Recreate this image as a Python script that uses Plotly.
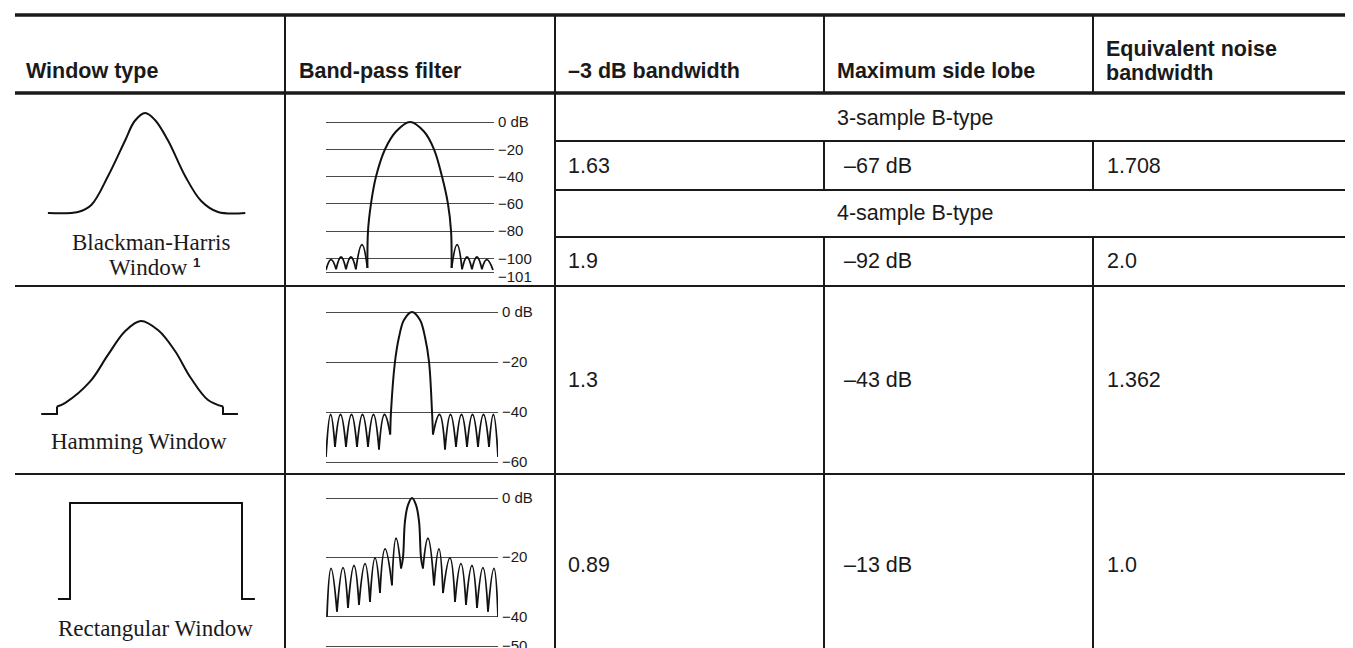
import plotly.graph_objects as go

W, H = 1353, 648

# ---------------- table text ----------------
headers = ["Window type", "Band-pass filter", "–3 dB bandwidth", "Maximum side lobe"]
header_two_line = ["Equivalent noise", "bandwidth"]
window_names = ["Blackman-Harris", "Window", "Hamming Window", "Rectangular Window"]
footnote_mark = "1"
bh_subtypes = ["3-sample B-type", "4-sample B-type"]
bw_3db = ["1.63", "1.9", "1.3", "0.89"]
max_side_lobe = ["–67 dB", "–92 dB", "–43 dB", "–13 dB"]
enbw = ["1.708", "2.0", "1.362", "1.0"]

# ---------------- window shapes (normalised time, amplitude) ----------------
bh_win_t = [-1.43, -1.0, -0.81, -0.57, -0.33, -0.19, -0.04, 0.10, 0.29, 0.53, 0.76, 1.0, 1.39]
bh_win_amp = [0.0, 0.01, 0.08, 0.37, 0.72, 0.92, 1.0, 0.93, 0.72, 0.37, 0.12, 0.01, 0.0]

ham_edge_left_t = [-1.19, -1.0, -1.0]
ham_edge_left_amp = [0.0, 0.0, 0.08]
ham_win_t = [-1.0, -0.9, -0.6, -0.39, -0.18, 0.01, 0.22, 0.42, 0.61, 0.82, 1.0]
ham_win_amp = [0.08, 0.12, 0.35, 0.63, 0.89, 1.0, 0.90, 0.68, 0.39, 0.15, 0.08]
ham_edge_right_t = [1.0, 1.0, 1.18]
ham_edge_right_amp = [0.08, 0.0, 0.0]

rect_win_t = [-1.14, -1.0, -1.0, 1.0, 1.0, 1.15]
rect_win_amp = [0.0, 0.0, 1.0, 1.0, 0.0, 0.0]

# ---------------- band-pass responses (bins, dB) ----------------
bh_grid_db = [0, -20, -40, -60, -80, -100, -110]
bh_grid_labels = ["0 dB", "−20", "−40", "−60", "−80", "−100", ""]
bh_bottom_label = "−101"
bh_main_bin = [-4.05, -4.0, -3.73, -3.27, -2.45, -1.45, -0.18, 1.09, 2.0, 2.73, 3.27, 3.55, 3.6]
bh_main_db = [-107, -80, -60, -40, -20, -7, 0, -7, -20, -40, -60, -80, -107]
bh_left_null_bin = [-7.82, -6.9, -6.0, -5.1, -4.05]
bh_left_null_db = [-108.5, -108, -108, -108, -107]
bh_left_peak_bin = [-7.36, -6.45, -5.55, -4.55]
bh_left_peak_db = [-101, -99, -99, -90]
bh_right_null_bin = [3.6, 4.55, 5.45, 6.36, 7.36]
bh_right_null_db = [-107, -108, -108, -108, -108.5]
bh_right_peak_bin = [4.1, 5.0, 5.9, 6.8]
bh_right_peak_db = [-90, -99, -99, -101]

ham_grid_db = [0, -20, -40, -60]
ham_grid_labels = ["0 dB", "−20", "−40", "−60"]
ham_main_bin = [-1.98, -1.91, -1.55, -1.18, -0.73, 0.0, 0.73, 1.18, 1.55, 1.82, 1.91]
ham_main_db = [-49, -40, -20, -10, -3.2, 0, -3.2, -10, -20, -40, -49]
ham_left_null_bin = [-7.82, -7.0, -6.0, -5.0, -4.0, -3.0, -1.98]
ham_left_null_db = [-58, -54, -54, -54, -54, -55, -49]
ham_left_peak_bin = [-7.4, -6.5, -5.5, -4.5, -3.5, -2.5]
ham_left_peak_db = [-41, -41, -41, -41, -41, -41]
ham_right_null_bin = [1.91, 3.0, 4.0, 5.0, 6.0, 7.0, 7.82]
ham_right_null_db = [-49, -55, -54, -54, -54, -54, -58]
ham_right_peak_bin = [2.5, 3.5, 4.5, 5.5, 6.5, 7.4]
ham_right_peak_db = [-41, -41, -41, -41, -41, -41]

rect_grid_db = [0, -20, -40, -50]
rect_grid_labels = ["0 dB", "−20", "−40", "−50"]
rect_main_bin = [-1.0, -0.82, -0.64, -0.36, 0.0, 0.36, 0.64, 0.82, 1.0]
rect_main_db = [-23.8, -20.2, -7.9, -2.3, 0, -2.3, -7.9, -20.2, -23.8]
rect_left_null_bin = [-1.0, -1.82, -2.91, -3.82, -4.82, -5.82, -6.82, -7.73]
rect_left_null_db = [-23.8, -29.5, -32.1, -35.1, -36.1, -37.1, -38.4, -40.1]
rect_left_peak_bin = [-1.45, -2.45, -3.36, -4.27, -5.27, -6.27, -7.36]
rect_left_peak_db = [-13.6, -17.2, -20.2, -22.2, -22.8, -23.5, -23.8]
rect_right_null_bin = [1.0, 2.0, 2.82, 3.91, 4.91, 5.91, 6.91, 7.82]
rect_right_null_db = [-23.8, -29.5, -32.1, -35.1, -36.1, -37.1, -38.4, -40.1]
rect_right_peak_bin = [1.45, 2.45, 3.45, 4.45, 5.45, 6.45, 7.45]
rect_right_peak_db = [-13.6, -17.2, -20.2, -22.2, -22.8, -23.5, -23.8]

# ---------------- layout helpers ----------------
INK = "#1a1a1a"
HEAD_FAMILY = "Liberation Sans, Arial, Helvetica, sans-serif"
BODY_FAMILY = "Liberation Sans, Arial, Helvetica, sans-serif"
SERIF = "Liberation Serif, Times New Roman, DejaVu Serif, serif"
SANS = "Liberation Sans, Arial, Helvetica, sans-serif"


def span(v_a, px_a, v_b, px_b, rng):
    s = (px_b - px_a) / (v_b - v_a)
    p0 = px_a + s * (rng[0] - v_a)
    p1 = px_a + s * (rng[1] - v_a)
    return min(p0, p1), max(p0, p1)


def xdom(v_a, px_a, v_b, px_b, rng):
    a, b = span(v_a, px_a, v_b, px_b, rng)
    return [a / W, b / W]


def ydom(v_a, px_a, v_b, px_b, rng):
    a, b = span(v_a, px_a, v_b, px_b, rng)
    return [1 - b / H, 1 - a / H]


def lobes(null_b, null_d, peak_b, peak_d):
    xs, ys = [], []
    for k in range(len(peak_b)):
        xs += [null_b[k], peak_b[k], null_b[k + 1], None]
        ys += [null_d[k], peak_d[k], null_d[k + 1], None]
    return xs, ys


fig = go.Figure()
CURVE = dict(color="#111111", width=2)

# windows
win_specs = [
    ((-1, 70, 1, 210, [-1.5, 1.45]), (0, 205, 1, 105, [-0.08, 1.08])),
    ((-1, 49, 1, 215, [-1.25, 1.25]), (0, 406, 1, 313, [-0.08, 1.08])),
    ((-1, 62, 1, 234, [-1.2, 1.2]), (0, 591, 1, 495, [-0.08, 1.08])),
]
fig.add_trace(go.Scatter(x=bh_win_t, y=bh_win_amp, mode="lines", line=dict(CURVE, shape="spline", smoothing=1.0), xaxis="x", yaxis="y"))
fig.add_trace(go.Scatter(x=ham_edge_left_t, y=ham_edge_left_amp, mode="lines", line=CURVE, xaxis="x2", yaxis="y2"))
fig.add_trace(go.Scatter(x=ham_win_t, y=ham_win_amp, mode="lines", line=dict(CURVE, shape="spline", smoothing=1.0), xaxis="x2", yaxis="y2"))
fig.add_trace(go.Scatter(x=ham_edge_right_t, y=ham_edge_right_amp, mode="lines", line=CURVE, xaxis="x2", yaxis="y2"))
fig.add_trace(go.Scatter(x=rect_win_t, y=rect_win_amp, mode="lines", line=CURVE, xaxis="x3", yaxis="y3"))

# band-pass
bp_specs = [
    ((0, 404, 1, 415, [-7.82, 7.45]), (0, 114, -110, 264, [-111.5, 1.5]), bh_grid_db, bh_grid_labels),
    ((0, 404, 1, 415, [-7.82, 7.82]), (0, 304, -60, 454, [-61.5, 1.5]), ham_grid_db, ham_grid_labels),
    ((0, 404, 1, 415, [-7.82, 7.82]), (0, 490, -50, 638, [-51.2, 1.5]), rect_grid_db, rect_grid_labels),
]
bp_data = [
    (bh_main_bin, bh_main_db, (bh_left_null_bin, bh_left_null_db, bh_left_peak_bin, bh_left_peak_db),
     (bh_right_null_bin, bh_right_null_db, bh_right_peak_bin, bh_right_peak_db)),
    (ham_main_bin, ham_main_db, (ham_left_null_bin, ham_left_null_db, ham_left_peak_bin, ham_left_peak_db),
     (ham_right_null_bin, ham_right_null_db, ham_right_peak_bin, ham_right_peak_db)),
    (rect_main_bin, rect_main_db, (rect_left_null_bin, rect_left_null_db, rect_left_peak_bin, rect_left_peak_db),
     (rect_right_null_bin, rect_right_null_db, rect_right_peak_bin, rect_right_peak_db)),
]
for i, (mb, md, left, right) in enumerate(bp_data, start=4):
    fig.add_trace(go.Scatter(x=mb, y=md, mode="lines", line=dict(CURVE, shape="spline", smoothing=1.0),
                             xaxis=f"x{i}", yaxis=f"y{i}"))
    for side in (left, right):
        lx, ly = lobes(*side)
        fig.add_trace(go.Scatter(x=lx, y=ly, mode="lines", connectgaps=False,
                                 line=dict(CURVE, width=1.8, shape="spline", smoothing=1.3),
                                 xaxis=f"x{i}", yaxis=f"y{i}"))

layout = dict(
    width=W, height=H, autosize=False,
    margin=dict(l=0, r=0, t=0, b=0, pad=0),
    paper_bgcolor="white", plot_bgcolor="white",
    showlegend=False, template="none",
)

hidden = dict(visible=False, showgrid=False, zeroline=False, fixedrange=True)
for i, (xs, ys) in enumerate(win_specs, start=1):
    kx = "xaxis" if i == 1 else f"xaxis{i}"
    ky = "yaxis" if i == 1 else f"yaxis{i}"
    layout[kx] = dict(hidden, domain=xdom(*xs), range=xs[4], anchor="y" if i == 1 else f"y{i}")
    layout[ky] = dict(hidden, domain=ydom(*ys), range=ys[4], anchor="x" if i == 1 else f"x{i}")

for i, (xs, ys, gv, gl) in enumerate(bp_specs, start=4):
    layout[f"xaxis{i}"] = dict(hidden, domain=xdom(*xs), range=xs[4], anchor=f"y{i}")
    layout[f"yaxis{i}"] = dict(
        domain=ydom(*ys), range=ys[4], anchor=f"x{i}", side="right",
        showgrid=True, gridcolor="#4a4a4a", gridwidth=1.3, zeroline=False, showline=False,
        tickmode="array", tickvals=gv, ticktext=gl, ticks="", fixedrange=True,
        ticklabeloverflow="allow", ticklabelstandoff=3,
        tickfont=dict(family=SANS, size=15, color=INK),
    )
fig.update_layout(**layout)

# the bottom Blackman-Harris grid label sits a little below its line
bh_x_end = span(*bp_specs[0][0])[1]
fig.add_annotation(text=bh_bottom_label, x=(bh_x_end + 2) / W, y=1 - 268 / H, xref="paper", yref="paper",
                   showarrow=False, xanchor="left", yanchor="middle",
                   font=dict(family=SANS, size=15, color=INK))

# ---------------- table rules ----------------
col_x = [7, 277, 547, 816, 1085, 1353]
row_top, row_head, row_s1, row_s2, row_s3, row_bh, row_ham, row_bot = 7, 85, 133, 182, 229, 278, 466, 648


def hline(y, x0, x1, w):
    fig.add_shape(type="line", xref="paper", yref="paper", x0=x0 / W, x1=x1 / W,
                  y0=1 - y / H, y1=1 - y / H, line=dict(color=INK, width=w))


def vline(x, y0, y1, w=2):
    fig.add_shape(type="line", xref="paper", yref="paper", x0=x / W, x1=x / W,
                  y0=1 - y0 / H, y1=1 - y1 / H, line=dict(color=INK, width=w))


hline(row_top, col_x[0], W, 3.5)
hline(row_head, col_x[0], W, 3.5)
for y in (row_s1, row_s2, row_s3):
    hline(y, col_x[2], W, 2)
hline(row_bh, col_x[0], W, 2.2)
hline(row_ham, col_x[0], W, 2.2)
for x in col_x[1:3]:
    vline(x, row_top, row_bot)
for x in col_x[3:5]:
    vline(x, row_top, row_head)
    vline(x, row_s1, row_s2)
    vline(x, row_s3, row_bh)
    vline(x, row_bh, row_bot)


def note(text, x, y, family, size, xanchor="left", color=INK):
    fig.add_annotation(text=text, x=x / W, y=1 - y / H, xref="paper", yref="paper",
                       showarrow=False, xanchor=xanchor, yanchor="middle",
                       font=dict(family=family, size=size, color=color), align=xanchor)


# headers
head_x = [16, 289, 558, 827]
for txt, x in zip(headers, head_x):
    note("<b>" + txt + "</b>", x, 63, HEAD_FAMILY, 21.5)
note("<b>" + header_two_line[0] + "</b>", 1096, 41, HEAD_FAMILY, 21.5)
note("<b>" + header_two_line[1] + "</b>", 1096, 65, HEAD_FAMILY, 21.5)

# window labels
note(window_names[0], 143, 234, SERIF, 23, xanchor="center")
note(window_names[1] + " <b><span style='font-family:Liberation Sans, Arial; font-size:19px'>"
     + "<sup>" + footnote_mark + "</sup></span></b>", 147, 259, SERIF, 23, xanchor="center")
note(window_names[2], 131, 433, SERIF, 23, xanchor="center")
note(window_names[3], 147, 620, SERIF, 23, xanchor="center")

# B-type spans
note(bh_subtypes[0], 827, 110, BODY_FAMILY, 21.5)
note(bh_subtypes[1], 827, 205, BODY_FAMILY, 21.5)

# values
val_rows = [158, 253, 372, 557]
for yv, a, b, c in zip(val_rows, bw_3db, max_side_lobe, enbw):
    note(a, 558, yv, BODY_FAMILY, 21.5)
    note(b, 834, yv, BODY_FAMILY, 21.5)
    note(c, 1097, yv, BODY_FAMILY, 21.5)

fig.write_html("out.html")
